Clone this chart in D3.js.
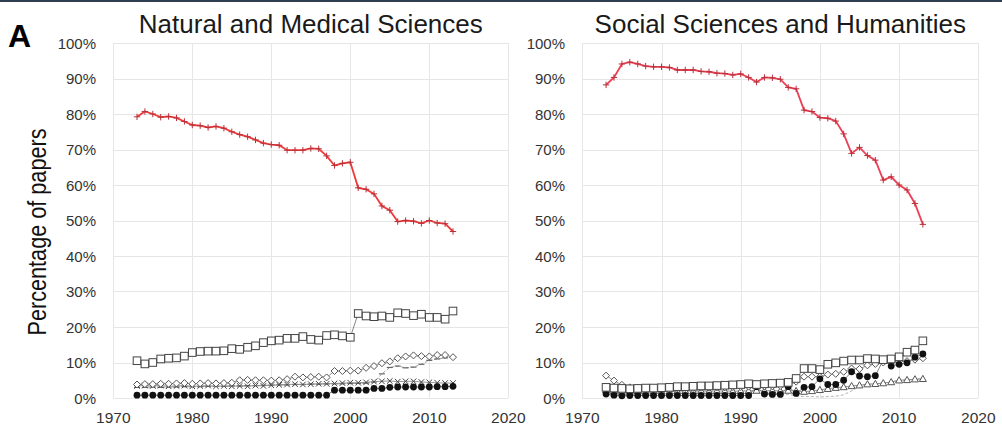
<!DOCTYPE html>
<html><head><meta charset="utf-8">
<script src="https://cdn.jsdelivr.net/npm/d3@7"></script>
<style>
body{margin:0;background:#fff}
svg{display:block}
text{font-family:"Liberation Sans",Arial,sans-serif}
</style>
</head><body>
<svg id="c" width="1002" height="430"></svg>
<script>
// ---------- data ----------
const years = [1973,1974,1975,1976,1977,1978,1979,1980,1981,1982,1983,1984,1985,1986,1987,1988,1989,1990,1991,1992,1993,1994,1995,1996,1997,1998,1999,2000,2001,2002,2003,2004,2005,2006,2007,2008,2009,2010,2011,2012,2013];
const xTicks = [1970,1980,1990,2000,2010,2020];
const yTicks = [0,10,20,30,40,50,60,70,80,90,100];
const panelTitles = ["Natural and Medical Sciences","Social Sciences and Humanities"];
const panelLetter = "A";
const yAxisTitle = "Percentage of papers";

// Natural and Medical Sciences
const natRed = [79.2,80.7,80.0,79.1,79.3,78.9,77.9,76.9,76.7,76.2,76.5,76.0,75.0,74.2,73.6,72.7,71.8,71.4,71.2,69.8,69.8,69.8,70.3,70.2,68.2,65.5,66.1,66.4,59.2,58.8,57.5,54.1,52.9,49.7,50.0,49.8,49.2,50.0,49.3,49.1,46.9];
const natSquare = [10.5,9.6,10.0,11.0,11.2,11.3,11.8,12.8,13.1,13.2,13.2,13.3,13.9,13.7,14.3,14.7,15.6,16.1,16.3,16.8,16.8,17.3,16.5,16.3,17.6,17.8,17.5,17.1,23.8,23.1,22.9,23.1,22.7,24.0,23.8,23.2,23.6,22.7,22.7,22.2,24.5];
const natDiamond = [3.8,3.9,3.9,4.0,4.0,4.1,4.2,4.0,4.1,4.2,4.1,4.2,4.3,5.0,5.1,5.0,5.0,4.9,5.0,5.3,6.0,5.8,5.9,6.0,5.8,7.6,7.6,7.7,7.7,8.5,9.0,9.8,10.3,11.2,11.7,12.0,11.8,11.7,12.1,12.1,11.5];
const natCross = [3.4,3.5,3.4,3.5,3.3,3.4,3.5,3.3,3.4,3.5,3.3,3.4,3.3,3.4,3.3,3.5,3.4,3.6,3.7,3.8,3.9,3.8,3.9,4.0,4.0,4.1,4.2,4.3,4.3,4.4,4.6,4.7,4.8,4.6,4.7,4.7,4.5,4.4,4.3,4.2,4.2];
const natDash = [3.0,3.0,3.1,3.0,3.1,3.1,3.2,3.2,3.2,3.3,3.3,3.3,3.4,3.4,3.5,3.5,3.6,3.6,3.7,3.7,3.8,3.8,3.9,3.9,4.0,4.0,4.0,4.1,4.1,4.2,4.5,6.8,8.6,9.0,8.5,8.7,9.5,10.6,11.0,11.3,11.5];
const natDot = [0.8,0.8,0.8,0.8,0.8,0.8,0.8,0.8,0.8,0.8,0.8,0.8,0.8,0.8,0.8,0.8,0.8,0.8,0.8,0.8,0.8,0.8,0.8,0.8,0.8,2.2,2.2,2.2,2.2,2.2,2.7,2.7,3.0,3.1,3.1,3.1,3.1,3.1,3.2,3.2,3.3];

// Social Sciences and Humanities
const socRed = [88.2,90.3,94.1,94.6,94.1,93.5,93.3,93.3,93.1,92.4,92.4,92.4,92.0,91.9,91.5,91.4,91.0,91.3,90.3,89.0,90.3,90.2,89.8,87.5,87.1,81.1,80.7,79.0,78.8,78.0,74.4,68.9,70.6,68.3,67.0,61.4,62.3,60.0,58.6,54.8,48.9];
const socSquare = [3.0,2.8,2.7,2.6,2.7,2.8,2.8,2.9,3.0,3.2,3.2,3.3,3.4,3.4,3.5,3.6,3.7,3.8,4.0,3.8,4.0,4.1,4.2,4.4,5.5,8.3,8.3,8.0,9.5,9.9,10.4,10.7,10.7,11.1,11.0,10.8,11.0,11.6,12.9,13.5,16.1];
const socDiamond = [6.3,4.9,3.7,3.0,2.8,2.6,2.6,2.6,2.7,2.7,2.8,2.8,2.9,2.9,3.0,3.0,3.1,3.1,3.2,3.2,3.3,3.3,3.4,3.5,4.6,6.0,6.0,6.0,6.6,6.8,7.4,8.3,8.2,9.2,9.6,10.0,10.0,10.3,10.4,10.8,11.2];
const socTriangle = [2.2,2.0,1.8,1.8,1.9,1.8,1.9,1.9,1.8,1.9,2.0,1.9,2.0,1.9,2.0,2.0,1.9,2.0,2.0,2.1,2.0,2.1,2.0,2.1,2.0,1.8,2.0,2.3,2.6,2.9,3.1,3.4,3.6,3.9,4.0,4.2,4.5,5.0,5.1,5.3,5.4];
const socDash = [1.6,1.5,1.4,1.4,1.3,1.3,1.3,1.3,1.3,1.3,1.3,1.3,1.3,1.3,1.3,1.3,1.3,1.3,1.3,1.3,1.3,1.2,1.2,1.0,0.6,0.4,0.4,0.3,0.4,0.5,0.9,2.0,3.3,3.8,4.0,4.2,4.5,5.0,5.1,5.3,5.4];
const socDot = [1.1,0.8,0.6,0.7,0.7,0.7,0.7,0.7,0.7,0.7,0.7,0.7,0.7,0.7,0.7,0.7,0.7,0.7,0.7,3.2,1.1,1.0,1.0,3.2,1.3,3.0,3.2,5.4,3.8,3.8,5.0,7.4,6.2,6.0,6.3,10.7,9.0,9.5,9.9,11.5,12.4];

// ---------- drawing ----------
const svg = d3.select("#c");
svg.append("rect").attr("x",0).attr("y",0).attr("width",1002).attr("height",2).attr("fill","#2c3e50");

const yScale = d3.scaleLinear().domain([0,100]).range([398,43]);

const panels = [
  {x0:113.3, x1:508.3, labelX:96, title:panelTitles[0], red:"#f03a3a",
   series:[
     {vals:natDash, marker:"dash", line:"#9a9a9a", dash:"3,2"},
     {vals:natCross, marker:"cross", line:"#8a8a8a"},
     {vals:natDiamond, marker:"diamond", line:"#8a8a8a"},
     {vals:natDot, marker:"dot", line:"#666"},
     {vals:natSquare, marker:"square", line:"#777"},
     {vals:natRed, marker:"plus", red:true}
   ]},
  {x0:582.3, x1:978.3, labelX:565, title:panelTitles[1], red:"#ec3f55",
   series:[
     {vals:socDash, marker:"none", line:"#aaa", dash:"3,2"},
     {vals:socTriangle, marker:"triangle", line:"#8a8a8a"},
     {vals:socDiamond, marker:"diamond", line:"#8a8a8a"},
     {vals:socDot, marker:"dot", line:"#777"},
     {vals:socSquare, marker:"square", line:"#777"},
     {vals:socRed, marker:"plus", red:true}
   ]}
];

panels.forEach(p => {
  const xScale = d3.scaleLinear().domain([1970,2020]).range([p.x0,p.x1]);
  const g = svg.append("g");
  // gridlines
  g.selectAll(".hg").data(yTicks).join("line")
    .attr("x1",p.x0).attr("x2",p.x1)
    .attr("y1",d=>Math.round(yScale(d))+0.5).attr("y2",d=>Math.round(yScale(d))+0.5)
    .attr("stroke","#e6e6e6").attr("stroke-width",1);
  g.selectAll(".vg").data(xTicks).join("line")
    .attr("y1",yScale(100)).attr("y2",yScale(0))
    .attr("x1",d=>Math.round(xScale(d))+0.5).attr("x2",d=>Math.round(xScale(d))+0.5)
    .attr("stroke","#e6e6e6").attr("stroke-width",1);
  // tick labels
  g.selectAll(".yl").data(yTicks).join("text")
    .attr("x",p.labelX).attr("y",d=>yScale(d)+5.5)
    .attr("text-anchor","end").attr("font-size",15).attr("fill","#333")
    .text(d=>d+"%");
  g.selectAll(".xl").data(xTicks).join("text")
    .attr("x",d=>xScale(d)).attr("y",423)
    .attr("text-anchor","middle").attr("font-size",15.5).attr("fill","#333")
    .text(d=>d);
  // title
  g.append("text").attr("x",(p.x0+p.x1)/2).attr("y",33)
    .attr("text-anchor","middle").attr("font-size",26).attr("fill","#1a1a1a")
    .text(p.title);

  // series
  p.series.forEach(s => {
    const pts = years.map((yr,i)=>({x:xScale(yr), y:yScale(s.vals[i])}));
    const line = d3.line().x(d=>d.x).y(d=>d.y);
    g.append("path").attr("d",line(pts)).attr("fill","none")
      .attr("stroke",s.red?p.red:s.line).attr("stroke-width",s.red?1.8:0.9)
      .attr("stroke-dasharray",s.dash||null);
    const mg = g.append("g");
    pts.forEach(d => {
      const t = `translate(${d.x},${d.y})`;
      if (s.marker==="plus") {
        mg.append("path").attr("transform",t).attr("d","M-3.2,0H3.2M0,-3.2V3.2")
          .attr("stroke","#b8323a").attr("stroke-width",1).attr("fill","none");
      } else if (s.marker==="square") {
        mg.append("rect").attr("x",d.x-3.8).attr("y",d.y-3.8).attr("width",7.6).attr("height",7.6)
          .attr("fill","#fff").attr("stroke","#444").attr("stroke-width",1);
      } else if (s.marker==="diamond") {
        mg.append("path").attr("transform",t).attr("d","M0,-3.5L3.5,0L0,3.5L-3.5,0Z")
          .attr("fill","#fff").attr("stroke","#555").attr("stroke-width",1);
      } else if (s.marker==="cross") {
        mg.append("path").attr("transform",t).attr("d","M-2.8,-2.8L2.8,2.8M-2.8,2.8L2.8,-2.8")
          .attr("stroke","#444").attr("stroke-width",1).attr("fill","none");
      } else if (s.marker==="dot") {
        mg.append("circle").attr("cx",d.x).attr("cy",d.y).attr("r",3.4).attr("fill","#111");
      } else if (s.marker==="triangle") {
        mg.append("path").attr("transform",t).attr("d","M0,-3.5L3.5,2.7L-3.5,2.7Z")
          .attr("fill","#fff").attr("stroke","#555").attr("stroke-width",1);
      } else if (s.marker==="dash") {
        mg.append("path").attr("transform",t).attr("d","M-3,0H3")
          .attr("stroke","#666").attr("stroke-width",1.2);
      }
    });
  });
});

// panel letter
svg.append("text").attr("x",8).attr("y",47).attr("font-size",32).attr("font-weight","bold")
  .attr("fill","#000").text(panelLetter);
// y axis title
svg.append("text").attr("transform","translate(46,232) rotate(-90)")
  .attr("text-anchor","middle").attr("font-size",26).attr("fill","#111")
  .attr("textLength",207).attr("lengthAdjust","spacingAndGlyphs")
  .text(yAxisTitle);
</script>
</body></html>
